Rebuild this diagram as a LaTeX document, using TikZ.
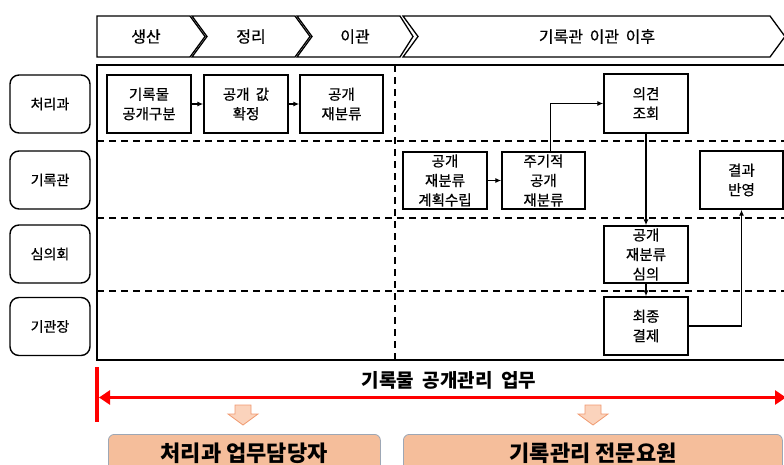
\documentclass[tikz,border=0pt]{standalone}
\usepackage{fontspec}
\setmainfont{Noto Sans CJK KR}
\newfontfamily\medkr{Noto Sans CJK KR}[FakeBold=0.6]
\usetikzlibrary{arrows.meta}
\definecolor{peach}{HTML}{F5BE9B}
\definecolor{peachline}{HTML}{9DA7B5}
\definecolor{lightor}{HTML}{FBD3BC}
\definecolor{orline}{HTML}{F09A70}
\tikzset{
  lane/.style={draw, line width=1.4pt, rounded corners=9pt, minimum width=80pt, minimum height=58pt, font=\medkr\fontsize{14}{16}\selectfont},
  proc/.style={draw, line width=1.4pt, minimum width=84pt, minimum height=58pt, align=center, font=\medkr\fontsize{14.5}{19.5}\selectfont, inner sep=0pt},
  flow/.style={line width=1.3pt, -{Latex[length=6pt,width=5pt]}},
  divider/.style={line width=1.3pt, dash pattern=on 7pt off 5pt},
  chev/.style={draw, line width=1.3pt, fill=white},
  hdr/.style={font=\medkr\fontsize{16}{18}\selectfont},
  bottombox/.style={draw=peachline, fill=peach, line width=0.8pt, rounded corners=6pt},
  downarrow/.style={draw=orline, fill=lightor, line width=0.8pt}
}
\begin{document}
\begin{tikzpicture}[x=1pt,y=-1pt]
\useasboundingbox (0,0) rectangle (784,464);
\begin{scope}
\clip (0,0) rectangle (784,464);
% header chevrons
\draw[chev] (97,16) -- (190,16) -- (205,36.5) -- (190,57) -- (97,57) -- cycle;
\draw[chev] (192,16) -- (295,16) -- (310,36.5) -- (295,57) -- (192,57) -- (207,36.5) -- cycle;
\draw[chev] (297,16) -- (400,16) -- (413,36.5) -- (400,57) -- (297,57) -- (312,36.5) -- cycle;
\draw[chev] (403,16) -- (770,16) -- (785,36.5) -- (770,57) -- (403,57) -- (418,36.5) -- cycle;
\node[hdr] (h1) at (146,36.5) {생산};
\node[hdr] (h2) at (251,36.5) {정리};
\node[hdr] (h3) at (355,36.5) {이관};
\node[hdr] (h4) at (597,36.5) {기록관\hspace{3pt} 이관\hspace{3pt} 이후};
% main frame
\draw[line width=1.4pt] (97,65) rectangle (790,360);
\draw[divider] (97,141) -- (790,141);
\draw[divider] (97,218) -- (790,218);
\draw[divider] (97,291) -- (790,291);
\draw[divider] (395,65) -- (395,360);
% lane labels
\node[lane] (l1) at (50,104) {처리과};
\node[lane] (l2) at (50,180) {기록관};
\node[lane] (l3) at (50,254) {심의회};
\node[lane] (l4) at (50,326.5) {기관장};
% process boxes
\node[proc] (b1) at (149,104) {기록물\\공개구분};
\node[proc] (b2) at (246,104) {공개\hspace{3pt} 값\\확정};
\node[proc, minimum width=83pt] (b3) at (341.5,104) {공개\\재분류};
\node[proc, minimum height=59pt] (b4) at (646,103.5) {의견\\조회};
\node[proc, minimum height=57pt] (b5) at (445,180.5) {공개\\재분류\\계획수립};
\node[proc, minimum width=83pt, minimum height=57pt] (b6) at (543.5,180.5) {주기적\\공개\\재분류};
\node[proc, minimum width=83pt] (b7) at (741.5,180) {결과\\반영};
\node[proc, minimum height=57pt] (b8) at (646,254.5) {공개\\재분류\\심의};
\node[proc] (b9) at (646,326) {최종\\결제};
% flows
\draw[flow] (b1) -- (b2);
\draw[flow] (b2) -- (b3);
\draw[flow] (b5) -- (b6);
\draw[flow] ([xshift=7pt]b6.north) |- (b4.west);
\draw[flow] (b4) -- (b8);
\draw[flow] (b8) -- (b9);
\draw[flow] (b9.east) -| (b7.south);
% red bar and arrow
\coordinate (rl) at (99,397.5);
\coordinate (rr) at (786,397.5);
\draw[red, line width=4pt] (97,367) -- (97,422);
\draw[red, line width=3.5pt, {Triangle[length=11pt,width=14pt]}-{Triangle[length=11pt,width=14pt]}] (rl) -- (rr);
\node[font=\bfseries\fontsize{19}{21}\selectfont] (title) at (449,380) {기록물\hspace{4pt} 공개관리\hspace{4pt} 업무};
% orange down arrows
\draw[downarrow] (235,405) -- (251,405) -- (251,414) -- (258,414) -- (243,425) -- (228,414) -- (235,414) -- cycle;
\draw[downarrow] (585,405) -- (601,405) -- (601,414) -- (608,414) -- (593,425) -- (578,414) -- (585,414) -- cycle;
% bottom boxes
\node[bottombox, minimum width=272pt, minimum height=44pt, anchor=north west] (p1) at (108,434) {};
\node[bottombox, minimum width=379pt, minimum height=44pt, anchor=north west] (p2) at (403,434) {};
\node[font=\bfseries\fontsize{22}{24}\selectfont] (t1) at (244,453) {처리과 업무담당자};
\node[font=\bfseries\fontsize{22}{24}\selectfont] (t2) at (593,453) {기록관리 전문요원};
\end{scope}
\end{tikzpicture}
\end{document}
